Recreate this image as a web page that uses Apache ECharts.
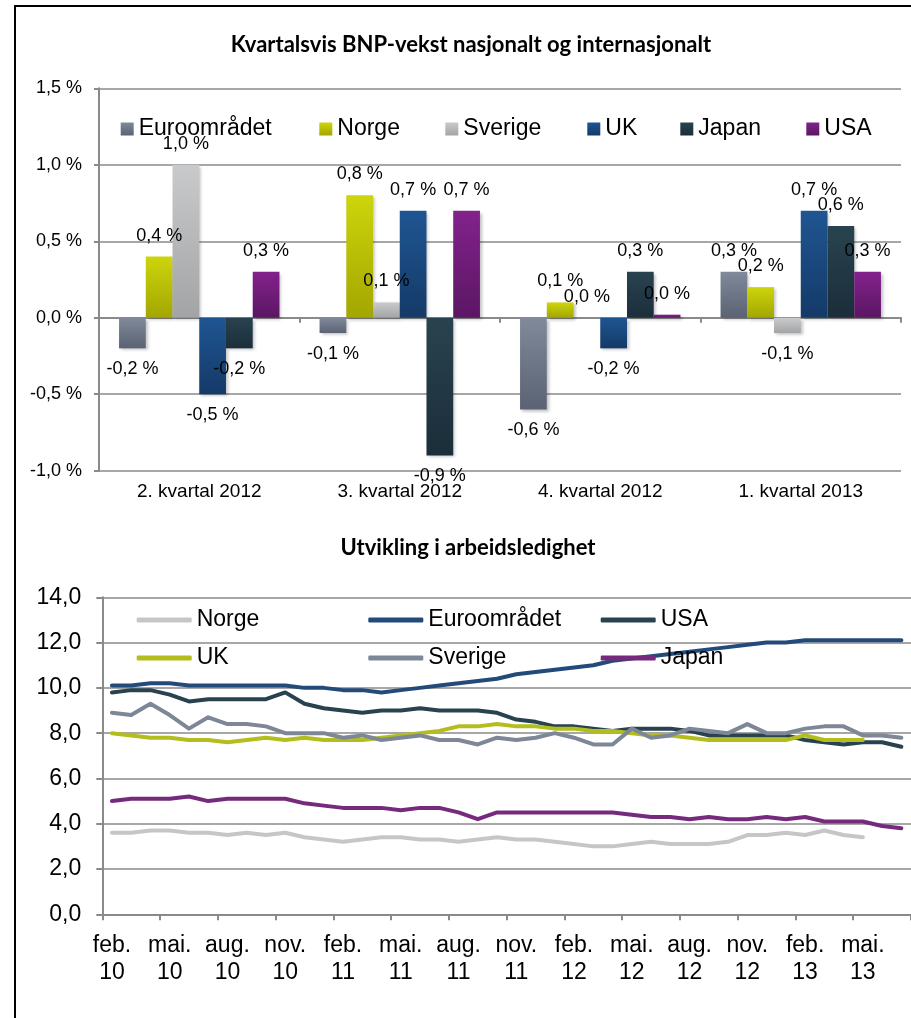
<!DOCTYPE html>
<html>
<head>
<meta charset="utf-8">
<script src="https://cdn.jsdelivr.net/npm/echarts@6/dist/echarts.min.js"></script>
<style>
html,body{margin:0;padding:0;background:#fff;overflow:hidden;}
#chart{position:absolute;left:0;top:0;width:911px;height:1018px;}
#frame{position:absolute;left:14px;top:5px;width:1000px;height:1100px;border-left:2px solid #000;border-top:2px solid #000;pointer-events:none;}
</style>
</head>
<body>
<div id="chart"></div>
<div id="frame"></div>
<script>
// ---- Chart 1: quarterly GDP growth ----
const quarters = ['2. kvartal 2012', '3. kvartal 2012', '4. kvartal 2012', '1. kvartal 2013'];
const gdpEuro    = [-0.2, -0.1, -0.6, 0.3];
const gdpNorge   = [0.4, 0.8, 0.1, 0.2];
const gdpSverige = [1.0, 0.1, 0.0, -0.1];
const gdpUK      = [-0.5, 0.7, -0.2, 0.7];
const gdpJapan   = [-0.2, -0.9, 0.3, 0.6];
const gdpUSA     = [0.3, 0.7, 0.02, 0.3];
const gdpTicks   = [-1.0, -0.5, 0.0, 0.5, 1.0, 1.5];

// ---- Chart 2: unemployment ----
const months = ['feb.\n10','mar.\n10','apr.\n10','mai.\n10','jun.\n10','jul.\n10','aug.\n10','sep.\n10','okt.\n10','nov.\n10','des.\n10',
  'jan.\n11','feb.\n11','mar.\n11','apr.\n11','mai.\n11','jun.\n11','jul.\n11','aug.\n11','sep.\n11','okt.\n11','nov.\n11','des.\n11',
  'jan.\n12','feb.\n12','mar.\n12','apr.\n12','mai.\n12','jun.\n12','jul.\n12','aug.\n12','sep.\n12','okt.\n12','nov.\n12','des.\n12',
  'jan.\n13','feb.\n13','mar.\n13','apr.\n13','mai.\n13','jun.\n13','jul.\n13'];
const ueNorge   = [3.6,3.6,3.7,3.7,3.6,3.6,3.5,3.6,3.5,3.6,3.4,3.3,3.2,3.3,3.4,3.4,3.3,3.3,3.2,3.3,3.4,3.3,3.3,3.2,3.1,3.0,3.0,3.1,3.2,3.1,3.1,3.1,3.2,3.5,3.5,3.6,3.5,3.7,3.5,3.4];
const ueEuro    = [10.1,10.1,10.2,10.2,10.1,10.1,10.1,10.1,10.1,10.1,10.0,10.0,9.9,9.9,9.8,9.9,10.0,10.1,10.2,10.3,10.4,10.6,10.7,10.8,10.9,11.0,11.2,11.3,11.4,11.5,11.6,11.7,11.8,11.9,12.0,12.0,12.1,12.1,12.1,12.1,12.1,12.1];
const ueUSA     = [9.8,9.9,9.9,9.7,9.4,9.5,9.5,9.5,9.5,9.8,9.3,9.1,9.0,8.9,9.0,9.0,9.1,9.0,9.0,9.0,8.9,8.6,8.5,8.3,8.3,8.2,8.1,8.2,8.2,8.2,8.1,7.9,7.9,7.9,7.9,7.9,7.7,7.6,7.5,7.6,7.6,7.4];
const ueUK      = [8.0,7.9,7.8,7.8,7.7,7.7,7.6,7.7,7.8,7.7,7.8,7.7,7.7,7.7,7.8,7.9,8.0,8.1,8.3,8.3,8.4,8.3,8.3,8.2,8.2,8.1,8.1,8.0,7.9,7.9,7.8,7.7,7.7,7.7,7.7,7.7,7.9,7.7,7.7,7.7];
const ueSverige = [8.9,8.8,9.3,8.8,8.2,8.7,8.4,8.4,8.3,8.0,8.0,8.0,7.8,7.9,7.7,7.8,7.9,7.7,7.7,7.5,7.8,7.7,7.8,8.0,7.8,7.5,7.5,8.2,7.8,7.9,8.2,8.1,8.0,8.4,8.0,8.0,8.2,8.3,8.3,7.9,7.9,7.8];
const ueJapan   = [5.0,5.1,5.1,5.1,5.2,5.0,5.1,5.1,5.1,5.1,4.9,4.8,4.7,4.7,4.7,4.6,4.7,4.7,4.5,4.2,4.5,4.5,4.5,4.5,4.5,4.5,4.5,4.4,4.3,4.3,4.2,4.3,4.2,4.2,4.3,4.2,4.3,4.1,4.1,4.1,3.9,3.8];
const ueTicks   = [0, 2, 4, 6, 8, 10, 12, 14];

const FONT = '"Liberation Sans", Arial, sans-serif';
const TITLEFONT = 'Lato, "Open Sans", sans-serif';
const GRAY = '#8a8a8a';

function grad(top, bottom) {
  return new echarts.graphic.LinearGradient(0, 0, 0, 1, [{offset: 0, color: top}, {offset: 1, color: bottom}]);
}

const barDefs = [
  {name: 'Euroområdet', data: gdpEuro,    c: grad('#808a9b', '#5a6273')},
  {name: 'Norge',       data: gdpNorge,   c: grad('#cdd50c', '#a3a600')},
  {name: 'Sverige',     data: gdpSverige, c: grad('#c8cacb', '#a2a4a6')},
  {name: 'UK',          data: gdpUK,      c: grad('#1f5592', '#143a68')},
  {name: 'Japan',       data: gdpJapan,   c: grad('#28434f', '#1b2e3a')},
  {name: 'USA',         data: gdpUSA,     c: grad('#82228c', '#5b1663')}
];

const lineDefs = [
  {name: 'Norge',       data: ueNorge,   c: '#c5c7c6'},
  {name: 'Euroområdet', data: ueEuro,    c: '#224b7b'},
  {name: 'USA',         data: ueUSA,     c: '#29424f'},
  {name: 'UK',          data: ueUK,      c: '#b3be1e'},
  {name: 'Sverige',     data: ueSverige, c: '#7e8797'},
  {name: 'Japan',       data: ueJapan,   c: '#762a7e'}
];

const fmtPct = v => v.toFixed(1).replace('.', ',') + ' %';

const series = [];
barDefs.forEach(d => {
  series.push({
    name: d.name, type: 'bar', xAxisIndex: 0, yAxisIndex: 0,
    barGap: '0%', barCategoryGap: '20%',
    itemStyle: {color: d.c, shadowColor: 'rgba(0,0,0,0.25)', shadowBlur: 3, shadowOffsetX: 2, shadowOffsetY: 2},
    label: {show: true, distance: 12, fontFamily: FONT, fontSize: 18, color: '#000',
            formatter: p => fmtPct(p.value)},
    data: d.data.map(v => ({value: v, label: {position: v < 0 ? 'bottom' : 'top'}}))
  });
});
lineDefs.forEach(d => {
  series.push({
    name: d.name, type: 'line', xAxisIndex: 2, yAxisIndex: 1,
    showSymbol: false, symbol: 'none',
    lineStyle: {color: d.c, width: 4, cap: 'round', join: 'round'},
    itemStyle: {color: d.c},
    data: d.data
  });
});

// legends
const topLegendPos = [120.7, 319.3, 445.3, 587.3, 680.3, 806.3];
const botLegendPos = [[136.7, 0], [368.3, 0], [600.7, 0], [136.7, 1], [368.3, 1], [600.7, 1]];
const legends = [];
barDefs.forEach((d, i) => {
  legends.push({
    data: [d.name], left: topLegendPos[i], top: 116, padding: 0,
    itemWidth: 13, itemHeight: 13, icon: 'rect', selectedMode: false,
    textStyle: {fontFamily: FONT, fontSize: 23, color: '#000', lineHeight: 26}
  });
});
lineDefs.forEach((d, i) => {
  legends.push({
    data: [{name: d.name, icon: 'roundRect', itemStyle: {color: d.c}}],
    left: botLegendPos[i][0], top: 607 + botLegendPos[i][1] * 38, padding: 0,
    itemWidth: 55, itemHeight: 5, selectedMode: false,
    textStyle: {fontFamily: FONT, fontSize: 23, color: '#000', lineHeight: 26}
  });
});

const option = {
  backgroundColor: '#fff',
  animation: false,
  title: [
    {text: 'Kvartalsvis BNP-vekst nasjonalt og internasjonalt', left: 471, top: 33, padding: 0, textAlign: 'center',
     textStyle: {fontFamily: TITLEFONT, fontWeight: 'bold', fontSize: 22, lineHeight: 24, color: '#000'}},
    {text: 'Utvikling i arbeidsledighet', left: 468, top: 536, padding: 0, textAlign: 'center',
     textStyle: {fontFamily: TITLEFONT, fontWeight: 'bold', fontSize: 22, lineHeight: 24, color: '#000'}}
  ],
  legend: legends,
  grid: [
    {left: 99, top: 88.3, width: 802, height: 382.4, containLabel: false},
    {left: 102.3, top: 597.3, width: 813.1, height: 317, containLabel: false}
  ],
  xAxis: [
    {type: 'category', gridIndex: 0, data: quarters, position: 'bottom',
     axisLine: {show: false, onZero: false}, axisTick: {show: false},
     axisLabel: {fontFamily: FONT, fontSize: 19, color: '#000', margin: 12}},
    {type: 'category', gridIndex: 0, data: quarters, position: 'bottom',
     axisLine: {show: true, onZero: true, lineStyle: {color: GRAY, width: 2}},
     axisTick: {show: true, length: 5, lineStyle: {color: GRAY, width: 2}},
     axisLabel: {show: false}},
    {type: 'category', gridIndex: 1, data: months, boundaryGap: true,
     axisLine: {show: true, lineStyle: {color: GRAY, width: 2}},
     axisTick: {show: true, interval: 2, length: 6, lineStyle: {color: GRAY, width: 2}},
     axisLabel: {interval: 2, fontFamily: FONT, fontSize: 23, lineHeight: 27, color: '#000', margin: 18}}
  ],
  yAxis: [
    {type: 'value', gridIndex: 0, min: gdpTicks[0], max: gdpTicks[gdpTicks.length - 1], interval: 0.5,
     axisLine: {show: true, lineStyle: {color: GRAY, width: 2}},
     axisTick: {show: true, length: 5, lineStyle: {color: GRAY, width: 2}},
     splitLine: {show: true, lineStyle: {color: GRAY, width: 1.7}},
     axisLabel: {fontFamily: FONT, fontSize: 18, color: '#000', margin: 17, formatter: v => fmtPct(v)}},
    {type: 'value', gridIndex: 1, min: ueTicks[0], max: ueTicks[ueTicks.length - 1], interval: 2,
     axisLine: {show: true, lineStyle: {color: GRAY, width: 2}},
     axisTick: {show: true, length: 6, lineStyle: {color: GRAY, width: 2}},
     splitLine: {show: true, lineStyle: {color: GRAY, width: 1.7}},
     axisLabel: {fontFamily: FONT, fontSize: 23, color: '#000', margin: 21, formatter: v => v.toFixed(1).replace('.', ',')}}
  ],
  series: series
};

const chart = echarts.init(document.getElementById('chart'), null, {renderer: 'canvas'});
chart.setOption(option);
</script>
</body>
</html>
